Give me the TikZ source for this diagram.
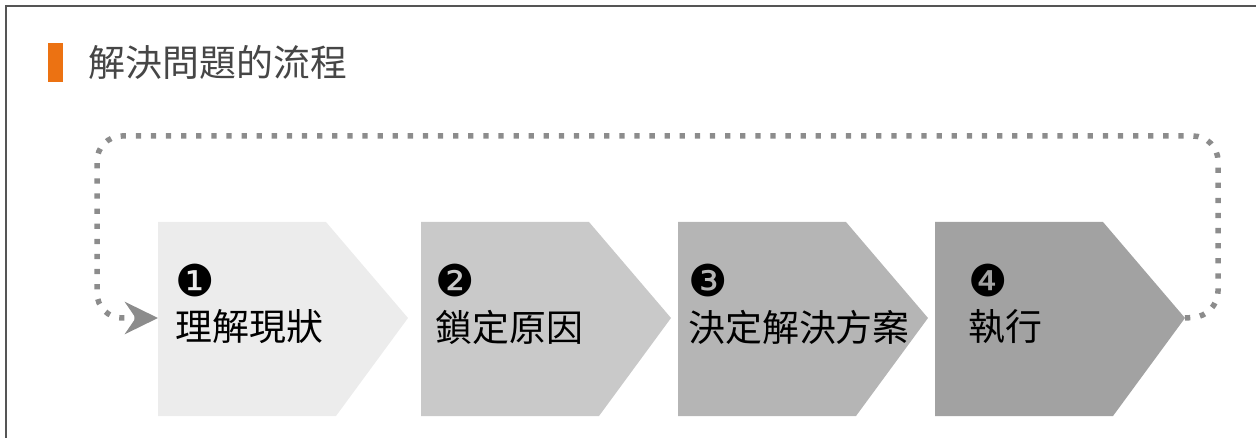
\documentclass[tikz,border=0pt]{standalone}
\usepackage{fontspec}
\setmainfont{Noto Sans CJK TC}
\newfontfamily\dingfont{DejaVu Sans}
\usetikzlibrary{arrows.meta,positioning}

\definecolor{framegray}{HTML}{555555}
\definecolor{barorange}{HTML}{EC7212}
\definecolor{titlegray}{HTML}{464646}
\definecolor{dotgray}{HTML}{8C8C8C}
\definecolor{shadeA}{HTML}{ECECEC}
\definecolor{shadeB}{HTML}{C9C9C9}
\definecolor{shadeC}{HTML}{B5B5B5}
\definecolor{shadeD}{HTML}{A2A2A2}

\tikzset{
  steplabel/.style={anchor=west, inner sep=0pt, font=\fontsize{21}{25}\selectfont},
  stepnum/.style={inner sep=0pt, text depth=0pt, font=\dingfont\fontsize{25}{30}\selectfont},
  loopline/.style={dotgray, line width=0.11cm, dash pattern=on 3pt off 5.6pt,
    rounded corners=0.5cm, -{Stealth[length=0.66cm, width=0.64cm]}}
}

\begin{document}
\begin{tikzpicture}[x=0.02cm, y=-0.02cm]
    \useasboundingbox (0,0) rectangle (1256,438);
    \draw[framegray, line width=0.04cm] (6,438) -- (6,6) -- (1256,6); % frame

    % title
    \node[fill=barorange, inner sep=0pt, minimum width=0.3cm, minimum height=0.78cm] (bar) at (55.5,62.5) {};
    \node[right=0.5cm of bar, inner sep=0pt, titlegray, font=\fontsize{21}{25}\selectfont] (title) {解決問題的流程};

    % the four steps
    \foreach \i/\lx/\tx/\shade/\num/\txt in {1/158/175/shadeA/❶/理解現狀,
                                            2/421/435/shadeB/❷/鎖定原因,
                                            3/678/688/shadeC/❸/決定解決方案,
                                            4/935/968/shadeD/❹/執行}{
        \fill[\shade] (\lx,222) -- ({\lx+168},222) -- ({\lx+250},318) -- ({\lx+178},416) -- (\lx,416) -- cycle;
        \coordinate (in\i) at (\lx,318);
        \coordinate (tip\i) at ({\lx+250},318);
        \node[steplabel] (lab\i) at (\tx,327) {\txt};
        \node[stepnum, above=7pt of lab\i.north west, anchor=south west] (num\i) {\num};
    }

    % back to the start
    \draw[loopline] (tip4) -- (1218,316) -- (1218,136) -- (97,136) -- (97,318) -- (in1);
\end{tikzpicture}
\end{document}
